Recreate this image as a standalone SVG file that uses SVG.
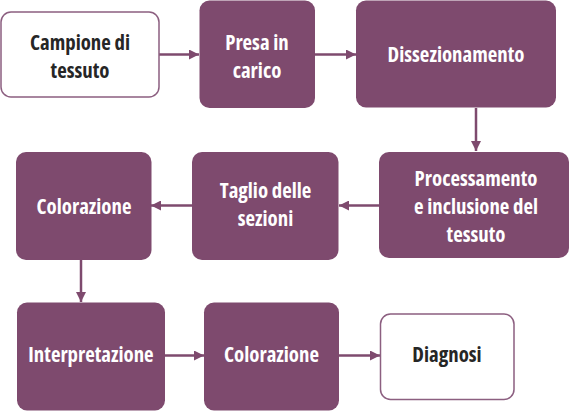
<svg xmlns="http://www.w3.org/2000/svg" width="570" height="411" viewBox="0 0 570 411">
<defs>
<style>
.f{fill:#7e4a6e;}
.w{fill:#ffffff;stroke:#8c5f80;stroke-width:1.5;}
text{font-family:"Open Sans","Liberation Sans Narrow","Liberation Sans",sans-serif;font-weight:700;font-stretch:condensed;font-size:20.8px;text-anchor:middle;}
.tw{fill:#ffffff;}
.td{fill:#262626;}
.c{stroke:#7e4a6e;stroke-width:2.5;fill:none;marker-end:url(#ah);}
</style>
<marker id="ah" viewBox="0 0 10 10" refX="10" refY="5" markerWidth="4" markerHeight="4" orient="auto" markerUnits="strokeWidth">
<path d="M0,0 L10,5 L0,10 z" fill="#7e4a6e"/>
</marker>
</defs>
<g id="connectors">
<line class="c" x1="159" y1="54.5" x2="199" y2="54.5"/>
<line class="c" x1="315" y1="54.5" x2="356" y2="54.5"/>
<line class="c" x1="476" y1="108" x2="476" y2="151"/>
<line class="c" x1="379" y1="205.5" x2="339" y2="205.5"/>
<line class="c" x1="192" y1="205.5" x2="151" y2="205.5"/>
<line class="c" x1="81" y1="260" x2="81" y2="302"/>
<line class="c" x1="165" y1="355.5" x2="204" y2="355.5"/>
<line class="c" x1="339" y1="355.5" x2="380" y2="355.5"/>
</g>
<g id="n1"><rect class="w" x="1" y="12" width="158" height="85" rx="10"/>
<text class="td" x="80" y="50">Campione di</text><text class="td" x="80" y="78">tessuto</text></g>
<g id="n2"><rect class="f" x="199.5" y="0.5" width="115.5" height="107.5" rx="10"/>
<text class="tw" x="257" y="50">Presa in</text><text class="tw" x="257" y="78">carico</text></g>
<g id="n3"><rect class="f" x="356" y="0.5" width="200" height="107" rx="10"/>
<text class="tw" x="456" y="61.5">Dissezionamento</text></g>
<g id="n4"><rect class="f" x="379" y="152" width="190" height="106" rx="10"/>
<text class="tw" x="476" y="186">Processamento</text><text class="tw" x="476" y="214">e inclusione del</text><text class="tw" x="476" y="242">tessuto</text></g>
<g id="n5"><rect class="f" x="192" y="152" width="146.5" height="108" rx="10"/>
<text class="tw" x="265.5" y="197.5">Taglio delle</text><text class="tw" x="265.5" y="225.5">sezioni</text></g>
<g id="n6"><rect class="f" x="16" y="152" width="135.5" height="108" rx="10"/>
<text class="tw" x="84" y="213.5">Colorazione</text></g>
<g id="n7"><rect class="f" x="17" y="302.5" width="148" height="108" rx="10"/>
<text class="tw" x="91" y="362">Interpretazione</text></g>
<g id="n8"><rect class="f" x="204" y="302.5" width="135" height="108" rx="10"/>
<text class="tw" x="271.5" y="362">Colorazione</text></g>
<g id="n9"><rect class="w" x="380.5" y="314" width="133.5" height="85.5" rx="10"/>
<text class="td" x="447" y="362">Diagnosi</text></g>
</svg>
